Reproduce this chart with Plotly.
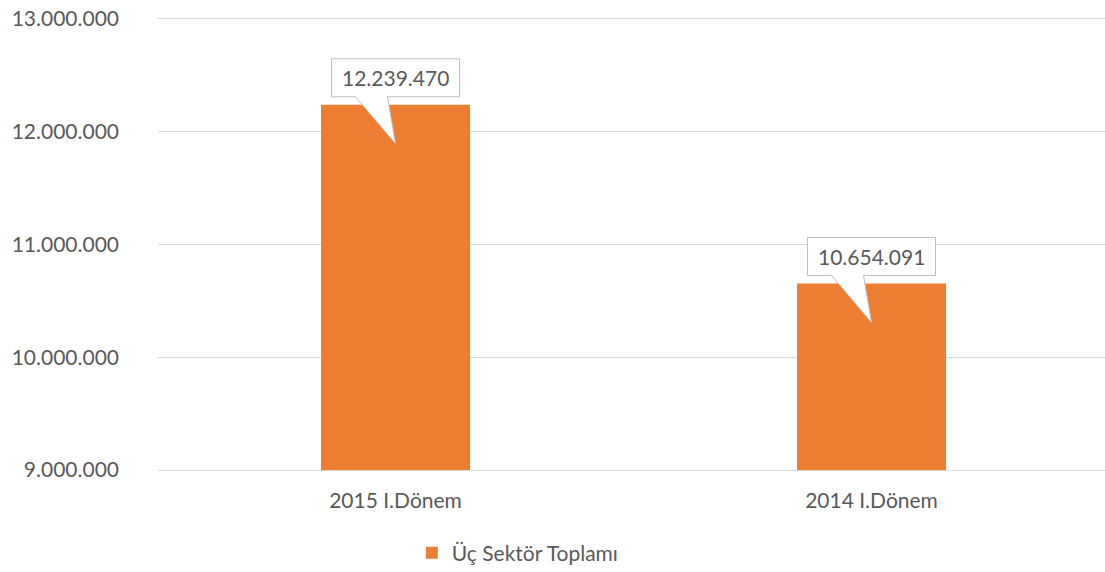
import plotly.graph_objects as go

categories = ["2015 I.Dönem", "2014 I.Dönem"]
values = [12239470, 10654091]
series_name = "Üç Sektör Toplamı"
y_ticks = [9000000, 10000000, 11000000, 12000000, 13000000]

def fmt(v):
    return f"{v:,}".replace(",", ".")

FONT = "Lato"
GRAY = "#595959"
ORANGE = "#ED7D31"
GRID = "#D9D9D9"

fig = go.Figure()
fig.add_trace(go.Bar(
    x=categories, y=values, name=series_name,
    marker=dict(color=ORANGE, line=dict(width=0)),
    hoverinfo="skip",
))

shapes = []
annotations = []
for i, (c, v) in enumerate(zip(categories, values)):
    shapes.append(dict(
        type="path", xref="x", yref="y",
        xsizemode="pixel", ysizemode="pixel",
        xanchor=i, yanchor=v,
        path="M -64,46 L 64,46 L 64,8 L -8,8 L 0,-39 L -40,8 L -64,8 Z",
        fillcolor="white", line=dict(color="#BFBFBF", width=1),
        layer="above",
    ))
    annotations.append(dict(
        x=i, y=v, xref="x", yref="y", text=fmt(v), showarrow=False,
        yshift=27, font=dict(family=FONT, size=21, color=GRAY),
    ))

fig.update_layout(
    width=1105, height=572,
    margin=dict(l=158, r=0, t=19, b=102, autoexpand=False),
    paper_bgcolor="white", plot_bgcolor="white",
    font=dict(family=FONT, size=21, color=GRAY),
    bargap=0.687,
    shapes=shapes, annotations=annotations,
    showlegend=True,
    legend=dict(orientation="h", x=0.268, xanchor="left", y=-0.139, yanchor="top",
                font=dict(family=FONT, size=21, color=GRAY)),
    xaxis=dict(range=[-0.499, 1.4905],
               showgrid=False, showline=True, mirror=True, linecolor=GRID, linewidth=1,
               zeroline=False, automargin=False,
               ticks="", ticklabelstandoff=12, ticklabeloverflow="allow",
               tickfont=dict(family=FONT, size=21, color=GRAY)),
    yaxis=dict(range=[9000000, 13000000], tickvals=y_ticks,
               ticktext=[fmt(t) for t in y_ticks], automargin=False,
               showgrid=True, gridcolor=GRID, gridwidth=1,
               zeroline=False, showline=False, ticks="",
               ticklabelstandoff=38, ticklabeloverflow="allow",
               tickfont=dict(family=FONT, size=21, color=GRAY)),
)

fig.write_html("out.html",
               config={"displayModeBar": False, "staticPlot": True},
               post_script="document.body.style.margin='0';document.body.style.overflow='hidden';")
